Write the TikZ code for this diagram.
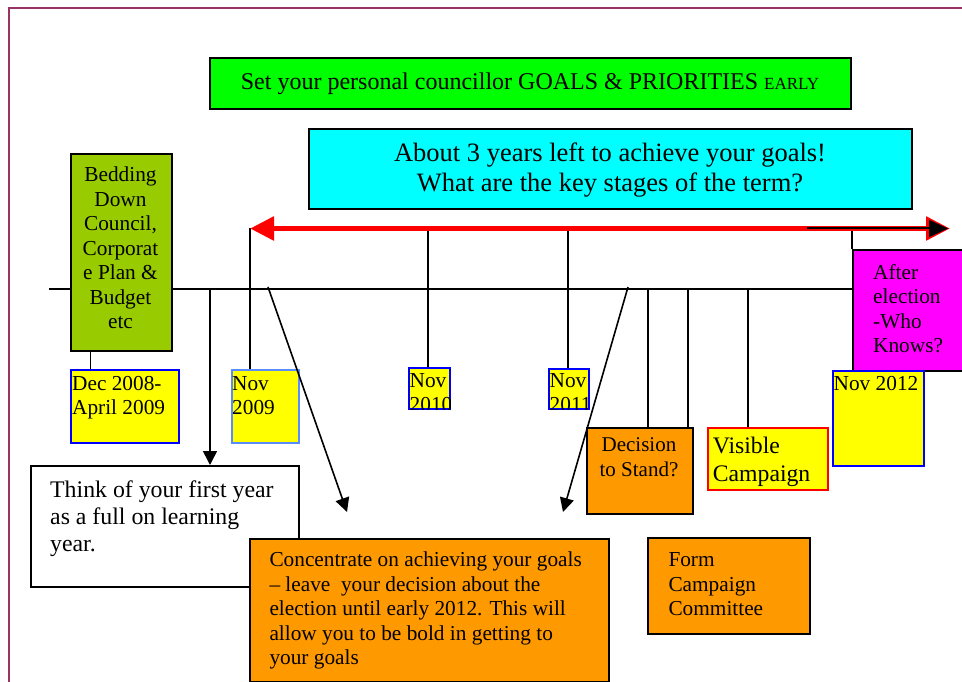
\documentclass[tikz,border=0pt]{standalone}
\usepackage{fontspec}
\setmainfont{Liberation Serif}
\usetikzlibrary{arrows.meta}
\definecolor{framecol}{RGB}{153,51,102}
\definecolor{brightgreen}{RGB}{0,255,0}
\definecolor{olive2}{RGB}{153,204,0}
\definecolor{cyan2}{RGB}{0,255,255}
\definecolor{yellow2}{RGB}{255,255,0}
\definecolor{orange2}{RGB}{255,153,0}
\definecolor{magenta2}{RGB}{255,0,255}
\definecolor{red2}{RGB}{255,0,0}
\definecolor{blue2}{RGB}{0,0,255}
\definecolor{lightblue2}{RGB}{90,140,255}
\newcommand\fsA{\fontsize{21.3}{24.5}\selectfont}
\begin{document}
\begin{tikzpicture}[x=1pt,y=-1pt,
  box/.style={draw, line width=1.8pt, inner sep=0pt, anchor=north west},
  lbl/.style={inner sep=0pt, font=\fsA, align=left, anchor=base west},
  clbl/.style={inner sep=0pt, font=\fsA, align=center, anchor=base},
  tline/.style={line width=1.7pt},
  arr/.style={line width=1.6pt, -{Triangle[length=14pt,width=14pt]}}]
\useasboundingbox (0,0) rectangle (962,682);
% frame
\draw[framecol, line width=2.4pt] (9,690) -- (9,8) -- (970,8);
\coordinate (tlstart) at (49,289);
% magenta box and timeline
\node[box, fill=magenta2, minimum width=114pt, minimum height=121pt] (mag) at (852,249) {};
\draw[tline] (tlstart) -- (tlstart -| mag.west);
% red two-headed arrow end points
\coordinate (redL) at (250,228.5);
\coordinate (redR) at (950,228.5);
\coordinate (blkL) at (807,228.5);
\coordinate (blkR) at (948,228.5);
% boxes
\node[box, fill=brightgreen, minimum width=641pt, minimum height=51pt] (goals) at (209,57) {};
\node[box, fill=cyan2, minimum width=603pt, minimum height=80pt] (about) at (308,128) {};
\node[box, fill=yellow2, draw=blue2, minimum width=108pt, minimum height=73pt] (dec) at (70,369) {};
\node[box, fill=yellow2, draw=lightblue2, minimum width=67pt, minimum height=73pt] (nov09) at (231,369) {};
\node[box, fill=yellow2, draw=blue2, minimum width=41pt, minimum height=41pt] (nov10) at (408,367) {};
\node[box, fill=yellow2, draw=blue2, minimum width=40pt, minimum height=40pt] (nov11) at (548,368) {};
\node[box, fill=yellow2, draw=blue2, minimum width=91pt, minimum height=95pt] (nov12) at (832,370) {};
% ticks from red arrow
\draw[tline] (redL) -- (redL |- nov09.north);
\coordinate (k10) at (428,228.5);
\coordinate (k11) at (568,228.5);
\coordinate (k12) at (852,228.5);
\draw[tline] (k10) -- (k10 |- nov10.north);
\draw[tline] (k11) -- (k11 |- nov11.north);
\draw[tline] (k12) -- (k12 |- mag.north);
\draw[red2, line width=5.5pt, {Triangle[length=24pt,width=23pt]}-{Triangle[length=24pt,width=23pt]}] (redL) -- (redR);
\draw[line width=2pt, -{Triangle[length=19pt,width=17pt]}] (blkL) -- (blkR);
% olive box over timeline
\node[box, fill=olive2, minimum width=101pt, minimum height=197pt] (bed) at (70,153) {};
\coordinate (kdec) at (90.5,0);
\draw[tline] (kdec |- bed.south) -- (kdec |- dec.north);
% ticks from timeline
\coordinate (t1) at (210,289);
\coordinate (t2) at (268,287);
\coordinate (t3) at (628,287);
\coordinate (t4) at (648,289);
\coordinate (t5) at (688,289);
\coordinate (t6) at (748,289);
\coordinate (e2) at (347,512);
\coordinate (e3) at (563,512);
\coordinate (e5) at (688,497);
\draw[line width=1.6pt, -{Triangle[length=11pt,width=12pt]}] (t5) -- (e5);
\node[box, fill=orange2, minimum width=106pt, minimum height=86pt] (dec2) at (586,427) {};
\node[box, fill=yellow2, draw=red2, minimum width=120pt, minimum height=62pt] (vis) at (707,427) {};
\node[box, fill=white, minimum width=268pt, minimum height=121pt] (think) at (30,465) {};
\node[box, fill=orange2, minimum width=359pt, minimum height=143pt] (conc) at (249,538) {};
\node[box, fill=orange2, minimum width=162pt, minimum height=96pt] (form) at (647,537) {};
\draw[tline] (t4) -- (t4 |- dec2.north);
\draw[tline] (t6) -- (t6 |- vis.north);
\draw[arr] (t1) -- (t1 |- think.north);
\draw[arr] (t2) -- (e2);
\draw[arr] (t3) -- (e3);
% texts (base anchor = baseline of last line)
\node[clbl, font=\fontsize{24}{28}\selectfont] (tgoals) at (530,90) {Set your personal councillor GOALS \& PRIORITIES {\fontsize{17}{20}\selectfont EARLY}};
\node[clbl, font=\fontsize{26.5}{30}\selectfont] (tabout) at (610,191.7) {About 3 years left to achieve your goals!\\What are the key stages of the term?};
\node[clbl] (tbed) at (120.5,328.5) {Bedding\\Down\\Council,\\Corporat\\e Plan \&\\Budget\\etc};
\node[lbl] (tdec) at (72,414.5) {Dec 2008-\\April 2009};
\node[lbl] (tnov09) at (232,414.5) {Nov\\2009};
\begin{scope}
\clip (nov10.north west) rectangle (nov10.south east);
\node[lbl] (tnov10) at (409.5,411.5) {Nov\\2010};
\end{scope}
\begin{scope}
\clip (nov11.north west) rectangle (nov11.south east);
\node[lbl] (tnov11) at (549.5,411.5) {Nov\\2011};
\end{scope}
\node[lbl] (tnov12) at (833.5,390.7) {Nov 2012};
\node[lbl] (tmag) at (873,352.5) {After\\election\\-Who\\Knows?};
\node[clbl, font=\fontsize{21}{25}\selectfont] (tdec2) at (639,476.7) {Decision\\to Stand?};
\node[lbl, font=\fontsize{23.7}{28.4}\selectfont] (tvis) at (712.7,481.7) {Visible\\Campaign};
\node[lbl, font=\fontsize{23.8}{27.2}\selectfont] (tthink) at (50,551.7) {Think of your first year\\as a full on learning\\year.};
\node[lbl] (tconc) at (269.3,664.7) {Concentrate on achieving your goals\\– leave\ \ your decision about the\\election until early 2012. This will\\allow you to be bold in getting to\\your goals};
\node[lbl] (tform) at (668.3,615.7) {Form\\Campaign\\Committee};
\end{tikzpicture}
\end{document}
